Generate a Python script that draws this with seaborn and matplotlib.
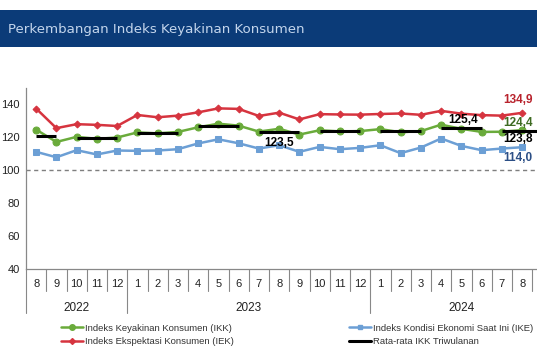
import numpy as np
import matplotlib
matplotlib.use("Agg")
import matplotlib.pyplot as plt
import matplotlib.transforms as mtransforms
from matplotlib.lines import Line2D
from matplotlib.patches import Rectangle
import seaborn as sns

# Data (Aug 2022 - Aug 2024)
months = ["8", "9", "10", "11", "12",
          "1", "2", "3", "4", "5", "6", "7", "8", "9", "10", "11", "12",
          "1", "2", "3", "4", "5", "6", "7", "8"]
years = ["2022", "2023", "2024"]
year_first = [0, 5, 17]
year_last = [4, 16, 25]

ikk = [124.7, 117.2, 120.3, 119.1, 119.9, 123.0, 122.4, 123.3, 126.1, 128.3, 127.1, 123.5, 125.2,
       121.7, 124.3, 123.6, 123.8, 125.0, 123.1, 123.8, 127.7, 125.2, 123.3, 123.4, 124.4]
iek = [137.5, 125.6, 128.0, 127.6, 126.9, 133.6, 132.2, 133.2, 135.2, 137.6, 137.3, 133.0, 135.0,
       130.9, 134.1, 133.9, 133.8, 134.2, 134.5, 133.7, 136.1, 134.4, 133.5, 133.2, 134.9]
ike = [111.2, 107.9, 112.2, 109.6, 112.0, 111.8, 112.0, 112.8, 116.3, 118.8, 116.4, 113.2, 115.2,
       111.2, 114.2, 112.8, 113.6, 115.2, 110.4, 113.8, 119.3, 114.8, 112.2, 113.2, 114.0]

# quarterly IKK averages: first month index, last month index, value
q_first = [0, 2, 5, 8, 11, 14, 17, 20, 23]
q_last = [1, 4, 7, 10, 13, 16, 19, 22, 25]
q_value = [121.0, 119.8, 122.7, 127.0, 123.5, 123.9, 124.0, 125.4, 123.8]

RED = "#d6343f"
GREEN = "#6aab3b"
BLUE = "#6c9fd5"
BANNER = "#0b3b78"

sns.set_style("white")
plt.rcParams["font.family"] = ["Liberation Sans", "DejaVu Sans"]

fig = plt.figure(figsize=(5.37, 3.6), dpi=100)
fig.patch.set_facecolor("white")

# title banner
fig.patches.append(Rectangle((0, 0.869), 1, 0.103, transform=fig.transFigure,
                             facecolor=BANNER, edgecolor="none", zorder=0))
fig.text(8 / 537, 0.919, "Perkembangan Indeks Keyakinan Konsumen", color="#c3d5ec",
         fontsize=9.6, va="center", ha="left", family="DejaVu Sans")

ax = fig.add_axes([26 / 537, 0.2528, 511 / 537, 0.5028])
idx = np.arange(len(ikk))

sns.lineplot(x=idx, y=iek, ax=ax, color=RED, lw=1.8, marker="D", markersize=3.5,
             markeredgecolor=RED, zorder=3)
sns.lineplot(x=idx, y=ikk, ax=ax, color=GREEN, lw=1.8, marker="o", markersize=5,
             markeredgecolor=GREEN, zorder=3)
sns.lineplot(x=idx, y=ike, ax=ax, color=BLUE, lw=1.8, marker="s", markersize=4.2,
             markeredgecolor=BLUE, zorder=3)
for a, b, v in zip(q_first, q_last, q_value):
    ax.plot([a, b], [v, v], color="black", lw=2.2, solid_capstyle="butt", zorder=4)

ax.axhline(100, color="#7f7f7f", ls=(0, (3, 2.5)), lw=1, zorder=1)

ax.set_ylim(40, 150)
ax.set_xlim(-0.5, -0.5 + 511 / 20.25)
ax.set_yticks([40, 60, 80, 100, 120, 140])
ax.tick_params(axis="y", length=3, width=0.8, color="#888888", labelsize=8, pad=1.5,
               labelcolor="#222222")
ax.set_xticks(np.arange(len(months)))
ax.set_xticklabels(months, fontsize=8, color="#222222")
ax.tick_params(axis="x", length=0, pad=7)
for s in ["top", "right"]:
    ax.spines[s].set_visible(False)
ax.spines["left"].set_color("#888888")
ax.spines["bottom"].set_color("#888888")
ax.spines["left"].set_linewidth(0.9)
ax.spines["bottom"].set_linewidth(0.9)

# category separators below the axis
trans = mtransforms.blended_transform_factory(ax.transData, ax.transAxes)
year_edges = [f - 0.5 for f in year_first]
for i in range(len(months) + 1):
    edge = i - 0.5
    depth = -0.243 if edge in year_edges else -0.1215
    ax.plot([edge, edge], [0, depth], transform=trans, color="#888888", lw=0.8,
            clip_on=False)
for name, f, l in zip(years, year_first, year_last):
    ax.text((f + l) / 2, -0.215, name, transform=trans, ha="center", va="center",
            fontsize=8.5, color="#222222")

# value labels
lab = dict(ha="center", va="center", fontsize=8.5, fontweight="bold",
           textcoords="offset points", annotation_clip=False)
ax.annotate("134,9", (24, iek[24]), xytext=(-3, 9), color="#b8222c", **lab)
ax.annotate("124,4", (24, ikk[24]), xytext=(-3, 5), color="#3e6b22", **lab)
ax.annotate("123,8", (24, q_value[8]), xytext=(-3, -6), color="black", **lab)
ax.annotate("114,0", (24, ike[24]), xytext=(-3, -7.5), color="#2c4f86", **lab)
ax.annotate("125,4", (21, q_value[7]), xytext=(1, 6), color="black", **lab)
ax.annotate("123,5", (12, q_value[4]), xytext=(0, -8), color="black", **lab)

# legends
h_ikk = Line2D([], [], color=GREEN, lw=1.8, marker="o", markersize=4)
h_iek = Line2D([], [], color=RED, lw=1.8, marker="D", markersize=3)
h_ike = Line2D([], [], color=BLUE, lw=1.8, marker="s", markersize=3.5)
h_avg = Line2D([], [], color="black", lw=2.2)
leg_kw = dict(frameon=False, fontsize=6.8, handlelength=2.4, handletextpad=0.2,
              labelspacing=0.45, borderpad=0, labelcolor="#333333")
fig.legend([h_ikk, h_iek], ["Indeks Keyakinan Konsumen (IKK)",
                            "Indeks Ekspektasi Konsumen (IEK)"],
           loc="upper left", bbox_to_anchor=(56 / 537, 1 - 319 / 360), **leg_kw)
fig.legend([h_ike, h_avg], ["Indeks Kondisi Ekonomi Saat Ini (IKE)",
                            "Rata-rata IKK Triwulanan"],
           loc="upper left", bbox_to_anchor=(344 / 537, 1 - 319 / 360), **leg_kw)

fig.savefig("out.png", dpi=100)
